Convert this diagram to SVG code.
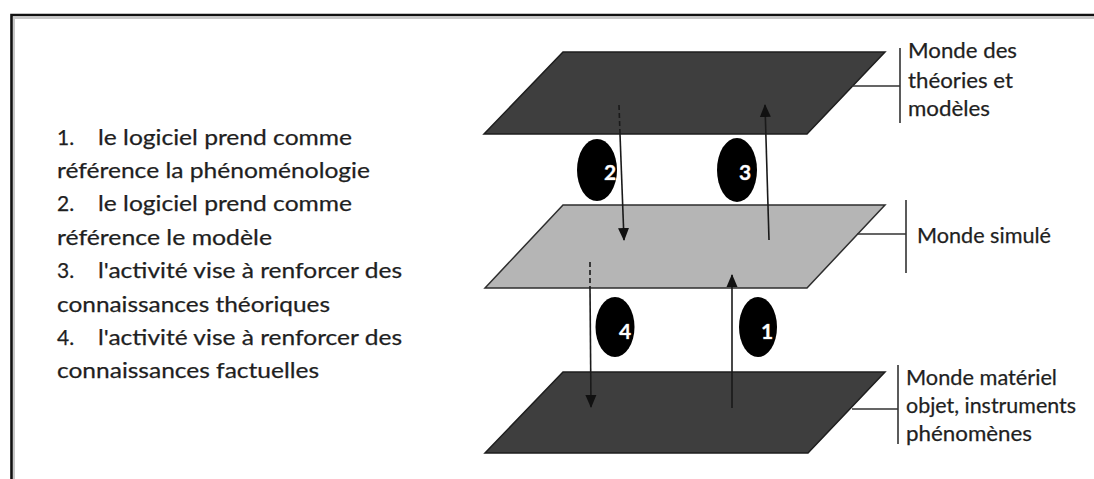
<svg xmlns="http://www.w3.org/2000/svg" width="1094" height="479" viewBox="0 0 1094 479">
<defs>
<style>
.plane-dark{fill:#3e3e3e;stroke:#1e1e1e;stroke-width:1.5}
.plane-light{fill:#b5b5b5;stroke:#2e2e2e;stroke-width:1.5}
.lbl{font-family:Lato,"Open Sans","Liberation Sans",sans-serif;font-size:21px;fill:#1f1f1f;stroke:#1f1f1f;stroke-width:0.25}
.num{font-family:Lato,"Liberation Sans",sans-serif;font-size:21px;font-weight:bold;fill:#ffffff;stroke:#8a8a8a;stroke-width:0.6;paint-order:stroke}
.badge{fill:#000000}
.bracket{stroke:#333333;stroke-width:1.6;fill:none}
.arrow{stroke:#1a1a1a;stroke-width:1.6;fill:none}
.dash{stroke:#1a1a1a;stroke-width:1.6;fill:none;stroke-dasharray:5 3}
</style>
<marker id="ah" markerUnits="userSpaceOnUse" markerWidth="14" markerHeight="14" viewBox="0 0 14 14" refX="12" refY="7" orient="auto">
<path d="M0,1.5 L13,7 L0,12.5 Z" fill="#111111"/>
</marker>
</defs>
<rect x="0" y="0" width="1094" height="479" fill="#ffffff"/>
<g id="frame">
<path d="M14,479 V18 H1094" stroke="#c8c8c8" stroke-width="2" fill="none"/>
<path d="M11.5,479 V15 H1094" stroke="#111111" stroke-width="2.6" fill="none"/>
</g>
<g id="legend">
<text class="lbl" x="57" y="145">1.</text>
<text class="lbl" x="98" y="145" textLength="254" lengthAdjust="spacingAndGlyphs">le logiciel prend comme</text>
<text class="lbl" x="57" y="178" textLength="313" lengthAdjust="spacingAndGlyphs">référence la phénoménologie</text>
<text class="lbl" x="57" y="211">2.</text>
<text class="lbl" x="98" y="211" textLength="254" lengthAdjust="spacingAndGlyphs">le logiciel prend comme</text>
<text class="lbl" x="57" y="245" textLength="215" lengthAdjust="spacingAndGlyphs">référence le modèle</text>
<text class="lbl" x="57" y="278">3.</text>
<text class="lbl" x="98" y="278" textLength="304" lengthAdjust="spacingAndGlyphs">l'activité vise à renforcer des</text>
<text class="lbl" x="57" y="312" textLength="273" lengthAdjust="spacingAndGlyphs">connaissances théoriques</text>
<text class="lbl" x="57" y="345">4.</text>
<text class="lbl" x="98" y="345" textLength="304" lengthAdjust="spacingAndGlyphs">l'activité vise à renforcer des</text>
<text class="lbl" x="57" y="378" textLength="262" lengthAdjust="spacingAndGlyphs">connaissances factuelles</text>
</g>
<g id="plane-theories">
<polygon class="plane-dark" points="563,52 885,52 807,134 484,134"/>
</g>
<g id="plane-simule">
<polygon class="plane-light" points="563,205 885,205 807,288 485,288"/>
</g>
<g id="plane-materiel">
<polygon class="plane-dark" points="563,372 885,372 808,453 485,453"/>
</g>
<g id="label-theories">
<text class="lbl" x="908" y="58" textLength="109" lengthAdjust="spacingAndGlyphs">Monde des</text>
<text class="lbl" x="908" y="88" textLength="105" lengthAdjust="spacingAndGlyphs">théories et</text>
<text class="lbl" x="908" y="116" textLength="82" lengthAdjust="spacingAndGlyphs">modèles</text>
</g>
<g id="label-simule">
<text class="lbl" x="917" y="243" textLength="134" lengthAdjust="spacingAndGlyphs">Monde simulé</text>
</g>
<g id="label-materiel">
<text class="lbl" x="906" y="385" textLength="151" lengthAdjust="spacingAndGlyphs">Monde matériel</text>
<text class="lbl" x="906" y="413" textLength="170" lengthAdjust="spacingAndGlyphs">objet, instruments</text>
<text class="lbl" x="906" y="441" textLength="126" lengthAdjust="spacingAndGlyphs">phénomènes</text>
</g>
<g id="badge-2">
<ellipse class="badge" cx="597" cy="170" rx="20" ry="31"/>
<text class="num" x="610" y="180" text-anchor="middle">2</text>
</g>
<g id="badge-3">
<ellipse class="badge" cx="737" cy="170" rx="20" ry="32"/>
<text class="num" x="745" y="180" text-anchor="middle">3</text>
</g>
<g id="badge-4">
<ellipse class="badge" cx="615" cy="327" rx="19.5" ry="30"/>
<text class="num" x="625" y="339" text-anchor="middle">4</text>
</g>
<g id="badge-1">
<ellipse class="badge" cx="758" cy="327" rx="19" ry="30"/>
<text class="num" x="767" y="339" text-anchor="middle">1</text>
</g>
<g id="connectors">
<line class="dash" x1="619" y1="105" x2="620" y2="134"/>
<line class="arrow" x1="620" y1="134" x2="624" y2="240" marker-end="url(#ah)"/>
<line class="arrow" x1="769" y1="240" x2="765" y2="105" marker-end="url(#ah)"/>
<line class="dash" x1="590" y1="262" x2="590" y2="288"/>
<line class="arrow" x1="590" y1="288" x2="591" y2="407" marker-end="url(#ah)"/>
<line class="arrow" x1="732" y1="408" x2="732" y2="275" marker-end="url(#ah)"/>
<path class="bracket" d="M852,86 H900 M900,48 V123"/>
<path class="bracket" d="M857,234 H906 M906,200 V273"/>
<path class="bracket" d="M852,409 H898 M898,365 V444"/>
</g>
</svg>
